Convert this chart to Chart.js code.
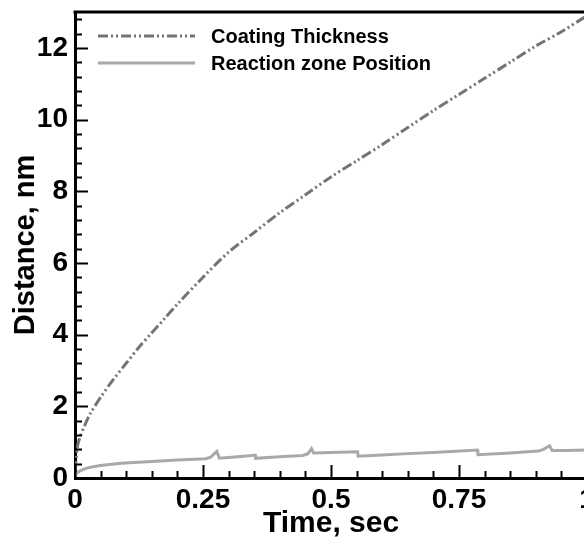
<!DOCTYPE html>
<html>
<head>
<meta charset="utf-8">
<script src="https://cdn.jsdelivr.net/npm/chart.js@4/dist/chart.umd.min.js"></script>
<style>
html,body{margin:0;padding:0;background:#fff;overflow:hidden;}
#wrap{width:600px;height:540px;}
</style>
</head>
<body>
<div id="wrap"><canvas id="c" width="600" height="540"></canvas></div>
<script>
// ---- data ----
const seriesNames = ['Coating Thickness', 'Reaction zone Position'];
const coatingTime = [0, 0.005, 0.01, 0.02, 0.03, 0.05, 0.075, 0.1, 0.125, 0.15, 0.175, 0.2, 0.25, 0.3, 0.35, 0.4, 0.45, 0.5, 0.55, 0.6, 0.65, 0.7, 0.75, 0.8, 0.85, 0.9, 0.95, 1.0];
const coatingValue = [0.2, 0.9, 1.15, 1.5, 1.8, 2.25, 2.75, 3.2, 3.65, 4.05, 4.45, 4.85, 5.6, 6.3, 6.85, 7.4, 7.9, 8.4, 8.85, 9.3, 9.78, 10.25, 10.7, 11.15, 11.6, 12.05, 12.45, 12.9];
const reactionTime = [0, 0.003, 0.01, 0.02, 0.03, 0.05, 0.09, 0.15, 0.2, 0.255, 0.265, 0.277, 0.282, 0.3, 0.34, 0.352, 0.353, 0.4, 0.445, 0.455, 0.462, 0.466, 0.5, 0.552, 0.553, 0.6, 0.65, 0.7, 0.786, 0.787, 0.85, 0.905, 0.915, 0.927, 0.932, 0.96, 1.0];
const reactionValue = [0.05, 0.13, 0.2, 0.26, 0.3, 0.35, 0.41, 0.46, 0.5, 0.54, 0.58, 0.74, 0.55, 0.57, 0.62, 0.64, 0.55, 0.59, 0.63, 0.68, 0.82, 0.7, 0.71, 0.73, 0.61, 0.64, 0.68, 0.71, 0.78, 0.65, 0.7, 0.75, 0.8, 0.9, 0.77, 0.77, 0.78];
const xTickValues = [0, 0.25, 0.5, 0.75, 1];
const xTickLabels = ['0', '0.25', '0.5', '0.75', '1'];
const yTickValues = [0, 2, 4, 6, 8, 10, 12];
const yTickLabels = ['0', '2', '4', '6', '8', '10', '12'];
const xMinorStep = 0.05;
const yMinorStep = 0.4;
const xTitle = 'Time, sec';
const yTitle = 'Distance, nm';

const FONT = '"Liberation Sans", Arial, Helvetica, sans-serif';

const toXY = (xs, ys) => xs.map((x, i) => ({x: x, y: ys[i]}));

const frame = {
  id: 'frame',
  afterDatasetsDraw(chart) {
    const {ctx, chartArea: a, scales} = chart;
    const xs = scales.x, ys = scales.y;
    ctx.save();
    ctx.strokeStyle = '#000';
    ctx.lineWidth = 3;
    ctx.beginPath();
    ctx.moveTo(a.left - 1.5, a.top);
    ctx.lineTo(a.right + 1.5, a.top);
    ctx.stroke();
    ctx.lineWidth = 2;
    ctx.beginPath();
    for (let v = xs.min; v <= xs.max + 1e-9; v += xMinorStep) {
      const major = xTickValues.some(t => Math.abs(t - v) < 1e-6);
      const px = Math.round(xs.getPixelForValue(v)) + 0.5;
      const len = major ? 13 : 7;
      ctx.moveTo(px, a.bottom);
      ctx.lineTo(px, a.bottom - len);
    }
    for (let v = ys.min; v <= ys.max + 1e-9; v += yMinorStep) {
      const major = yTickValues.some(t => Math.abs(t - v) < 1e-6);
      const py = Math.round(ys.getPixelForValue(v)) + 0.5;
      const len = major ? 13 : 7;
      ctx.moveTo(a.left, py);
      ctx.lineTo(a.left + len, py);
    }
    ctx.stroke();

    const ds = chart.data.datasets;
    const lx0 = a.left + 23, lx1 = a.left + 120, ly0 = a.top + 24, dy = 27;
    ds.forEach((d, i) => {
      const y = ly0 + i * dy;
      ctx.strokeStyle = d.borderColor;
      ctx.lineWidth = d.borderWidth;
      ctx.setLineDash(d.borderDash || []);
      ctx.beginPath();
      ctx.moveTo(lx0, y);
      ctx.lineTo(lx1, y);
      ctx.stroke();
      ctx.setLineDash([]);
      ctx.fillStyle = '#000';
      ctx.font = 'bold 20px ' + FONT;
      ctx.textBaseline = 'middle';
      ctx.textAlign = 'left';
      ctx.fillText(d.label, lx1 + 16, y + 1);
    });
    ctx.restore();
  }
};

new Chart(document.getElementById('c'), {
  type: 'line',
  data: {
    datasets: [
      {
        label: seriesNames[0],
        data: toXY(coatingTime, coatingValue),
        borderColor: '#747474',
        borderWidth: 3,
        borderDash: [10, 3, 2, 3, 2, 3],
        pointRadius: 0,
        tension: 0.3,
        fill: false
      },
      {
        label: seriesNames[1],
        data: toXY(reactionTime, reactionValue),
        borderColor: '#a9a9a9',
        borderWidth: 3,
        pointRadius: 0,
        tension: 0,
        fill: false
      }
    ]
  },
  options: {
    responsive: false,
    animation: false,
    events: [],
    layout: {padding: {top: 12, right: 13, left: 0, bottom: 0}},
    plugins: {legend: {display: false}, tooltip: {enabled: false}},
    scales: {
      x: {
        type: 'linear',
        min: 0, max: 1,
        afterBuildTicks: s => { s.ticks = xTickValues.map(v => ({value: v})); },
        afterFit: s => { s.height = 62; s.paddingLeft = 0; s.paddingRight = 0; },
        grid: {display: false, drawTicks: false},
        border: {display: true, color: '#000', width: 3},
        ticks: {
          color: '#000',
          padding: 5,
          maxRotation: 0,
          font: {family: FONT, size: 28, weight: 'bold'},
          callback: (v, i) => xTickLabels[i]
        },
        title: {
          display: true, text: xTitle, color: '#000',
          padding: {top: 0, bottom: 1},
          font: {family: FONT, size: 30, weight: 'bold', lineHeight: 1}
        }
      },
      y: {
        type: 'linear',
        min: 0, max: 13,
        afterBuildTicks: s => { s.ticks = yTickValues.map(v => ({value: v})); },
        afterFit: s => { s.width = 75; s.paddingTop = 0; s.paddingBottom = 0; },
        grid: {display: false, drawTicks: false},
        border: {display: true, color: '#000', width: 3},
        ticks: {
          color: '#000',
          padding: 7,
          font: {family: FONT, size: 28, weight: 'bold'},
          callback: (v, i) => yTickLabels[i]
        },
        title: {
          display: true, text: yTitle, color: '#000',
          padding: {top: 9, bottom: 0},
          font: {family: FONT, size: 29, weight: 'bold', lineHeight: 1.2}
        }
      }
    }
  },
  plugins: [frame]
});
</script>
</body>
</html>
